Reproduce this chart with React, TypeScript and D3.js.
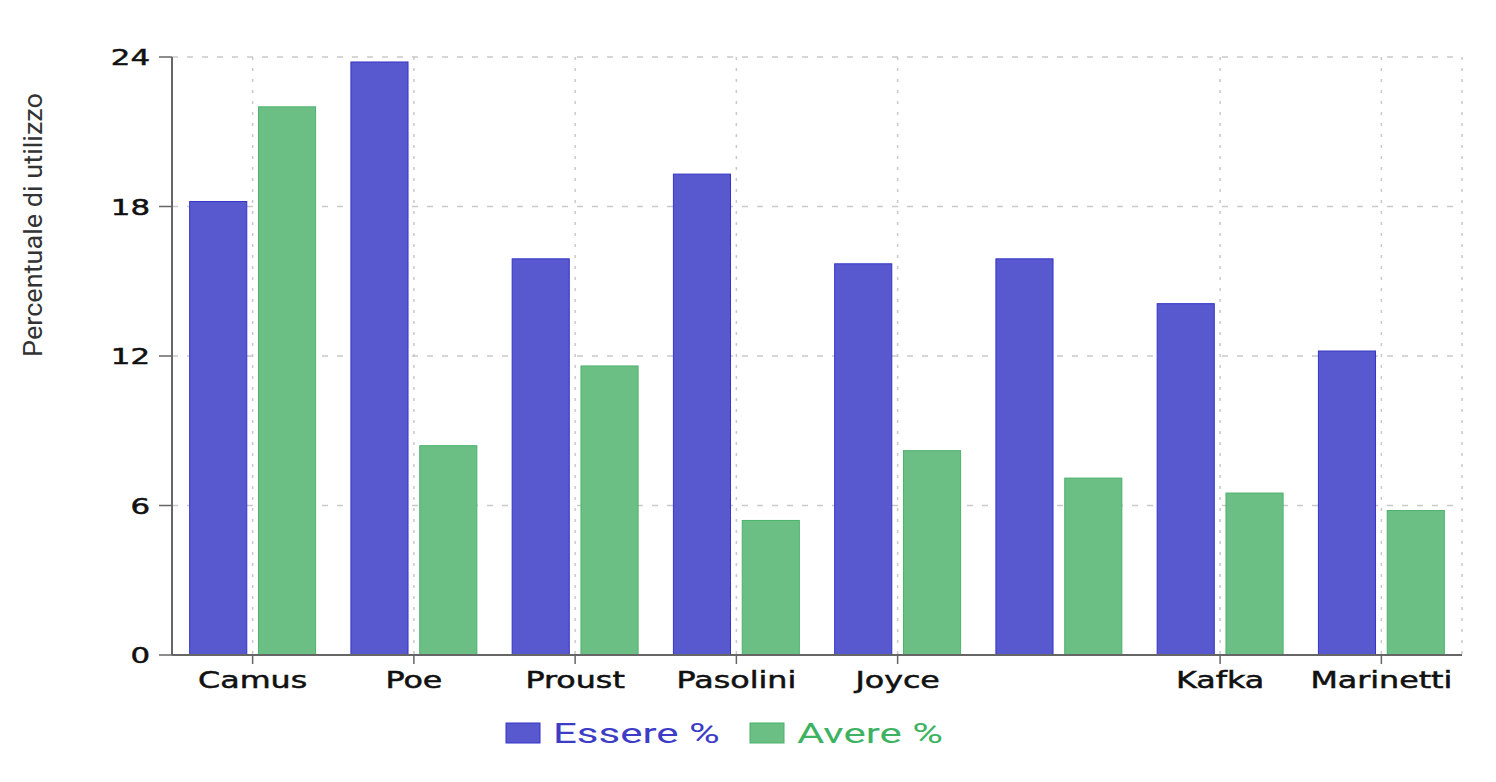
import { scaleBand, scaleLinear } from 'd3'

// authors; the 6th tick label is skipped in the original chart
const authors = ['Camus', 'Poe', 'Proust', 'Pasolini', 'Joyce', '', 'Kafka', 'Marinetti']
const essere = [18.2, 23.8, 15.9, 19.3, 15.7, 15.9, 14.1, 12.2]
const avere = [22.0, 8.4, 11.6, 5.4, 8.2, 7.1, 6.5, 5.8]
const yTicks = [0, 6, 12, 18, 24]
const seriesNames = ['Essere %', 'Avere %']

const WIDTH = 1496
const HEIGHT = 782
const PLOT = { left: 172, right: 1462, top: 57, bottom: 655 }

const BAR_FILL = ['#5858cf', '#6bbf84']
const BAR_EDGE = ['#3434c8', '#4bb26b']
const LEGEND_TEXT = ['#3c3cc6', '#3db262']
const GRID = '#c9c9c9'
const AXIS = '#666'

const App = () => {
  const indices = authors.map((_, i) => String(i))
  const x0 = scaleBand<string>()
    .domain(indices)
    .range([PLOT.left, PLOT.right])
    .paddingInner(0.219)
    .paddingOuter(0.1095)
  const x1 = scaleBand<string>()
    .domain(['0', '1'])
    .range([0, x0.bandwidth()])
    .paddingInner(0.17)
  const y = scaleLinear().domain([0, 24]).range([PLOT.bottom, PLOT.top])
  const center = (i: number) => (x0(String(i)) ?? 0) + x0.bandwidth() / 2
  const shown = authors.map((name, i) => ({ name, i })).filter((d) => d.name !== '')
  const series = [essere, avere]

  return (
    <svg
      width={WIDTH}
      height={HEIGHT}
      style={{ position: 'absolute', left: 0, top: 0, background: '#fff' }}
    >
      {/* horizontal grid */}
      {yTicks
        .filter((t) => t > 0)
        .map((t) => (
          <line
            key={`h${t}`}
            x1={PLOT.left}
            x2={PLOT.right}
            y1={y(t)}
            y2={y(t)}
            stroke={GRID}
            strokeWidth={1.5}
            strokeDasharray="6 9"
          />
        ))}
      {/* vertical grid at visible ticks and right edge */}
      {[...shown.map((d) => center(d.i)), PLOT.right].map((gx, k) => (
        <line
          key={`v${k}`}
          x1={gx}
          x2={gx}
          y1={PLOT.top}
          y2={PLOT.bottom}
          stroke={GRID}
          strokeWidth={1.5}
          strokeDasharray="3 8"
        />
      ))}

      {/* bars */}
      {series.map((values, s) =>
        values.map((v, i) => (
          <rect
            key={`${s}-${i}`}
            x={(x0(String(i)) ?? 0) + (x1(String(s)) ?? 0)}
            y={y(v)}
            width={x1.bandwidth()}
            height={y(0) - y(v)}
            fill={BAR_FILL[s]}
            stroke={BAR_EDGE[s]}
            strokeWidth={1}
          />
        )),
      )}

      {/* y axis */}
      <line x1={PLOT.left} x2={PLOT.left} y1={PLOT.top} y2={PLOT.bottom} stroke={AXIS} strokeWidth={2} />
      {yTicks.map((t) => (
        <g key={`yt${t}`}>
          <line x1={PLOT.left - 13} x2={PLOT.left} y1={y(t)} y2={y(t)} stroke={AXIS} strokeWidth={1.5} />
          <text
            transform={`translate(${PLOT.left - 22},${y(t) + 8}) scale(1.4,1)`}
            textAnchor="end"
            fontFamily="DejaVu Sans"
            fontSize={22}
            fill="#111"
            stroke="#111"
            strokeWidth={0.5}
          >
            {t}
          </text>
        </g>
      ))}

      {/* x axis */}
      <line x1={PLOT.left} x2={PLOT.right} y1={PLOT.bottom} y2={PLOT.bottom} stroke={AXIS} strokeWidth={2} />
      {shown.map((d) => (
        <g key={`xt${d.i}`}>
          <line
            x1={center(d.i)}
            x2={center(d.i)}
            y1={PLOT.bottom}
            y2={PLOT.bottom + 9}
            stroke={AXIS}
            strokeWidth={1.5}
          />
          <text
            transform={`translate(${center(d.i)},${PLOT.bottom + 33}) scale(1.38,1)`}
            textAnchor="middle"
            fontFamily="DejaVu Sans"
            fontSize={23}
            fill="#111"
            stroke="#111"
            strokeWidth={0.5}
          >
            {d.name}
          </text>
        </g>
      ))}

      {/* y axis label */}
      <text
        transform="translate(42,225) rotate(-90)"
        textAnchor="middle"
        fontFamily="Roboto"
        fontSize={25}
        fill="#333"
        textLength={264}
        lengthAdjust="spacingAndGlyphs"
      >
        Percentuale di utilizzo
      </text>

      {/* legend */}
      {seriesNames.map((name, s) => {
        const lx = 506 + s * 244
        return (
          <g key={name}>
            <rect x={lx} y={723} width={34} height={20} fill={BAR_FILL[s]} stroke={BAR_EDGE[s]} />
            <text
              transform={`translate(${lx + 47},743) scale(1.5,1)`}
              fontFamily="Roboto"
              fontSize={28}
              fill={LEGEND_TEXT[s]}
            >
              {name}
            </text>
          </g>
        )
      })}
    </svg>
  )
}

export default App
